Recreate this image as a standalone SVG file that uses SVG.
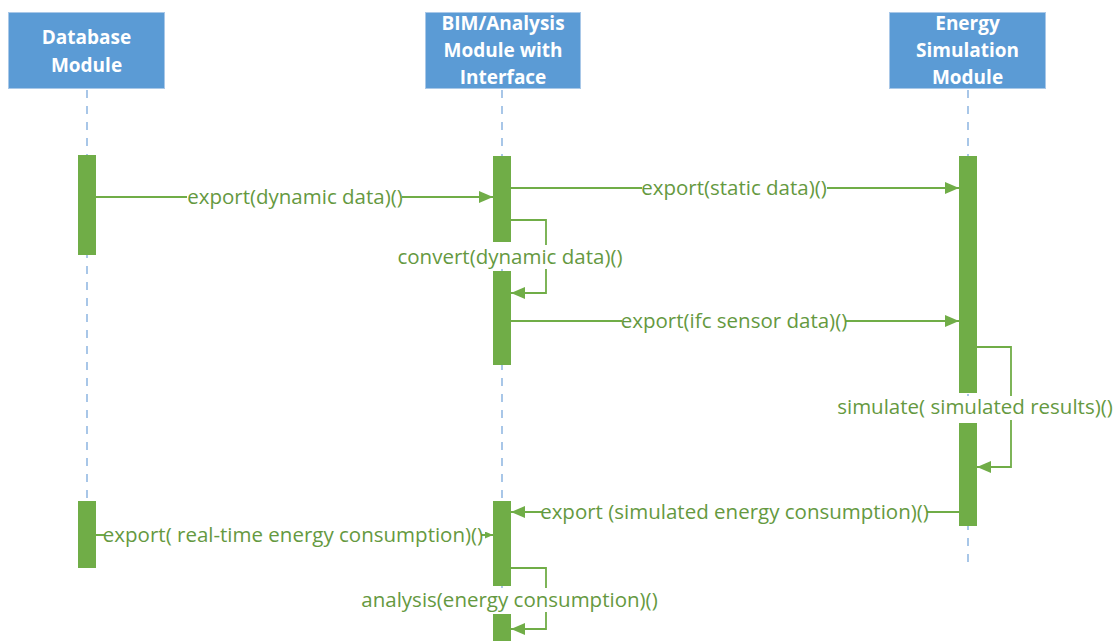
<svg xmlns="http://www.w3.org/2000/svg" width="1117" height="641" viewBox="0 0 1117 641">
  <style>
    .head { fill: #5b9bd5; stroke: #a9c8e8; stroke-width: 1; }
    .head-text { font-family: "Open Sans", "Liberation Sans", sans-serif; font-weight: bold; font-size: 19px; fill: #ffffff; text-anchor: middle; }
    .lifeline { stroke: #7aa9dc; stroke-width: 1.3; stroke-dasharray: 8 8; fill: none; }
    .bar { fill: #70ad47; }
    .msg { stroke: #70ad47; stroke-width: 1.8; fill: none; }
    .label { font-family: "Open Sans", "Liberation Sans", sans-serif; font-size: 20.5px; fill: #65993f; text-anchor: middle; }
    .bg { fill: #ffffff; }
  </style>
  <defs>
    <marker id="arrow" markerUnits="userSpaceOnUse" markerWidth="15" markerHeight="13" refX="14" refY="6" orient="auto">
      <path d="M0,0 L14,6 L0,12 z" fill="#70ad47"/>
    </marker>
    <marker id="arrow-small" markerUnits="userSpaceOnUse" markerWidth="9" markerHeight="8" refX="8" refY="3.5" orient="auto">
      <path d="M0,0 L8,3.5 L0,7 z" fill="#70ad47"/>
    </marker>
  </defs>

  <rect width="1117" height="641" fill="#ffffff"/>

  <!-- lifelines -->
  <g id="lifelines">
    <line class="lifeline" x1="87" y1="90" x2="87" y2="501"/>
    <line class="lifeline" x1="502" y1="90" x2="502" y2="641"/>
    <line class="lifeline" x1="968" y1="90" x2="968" y2="570"/>
  </g>

  <!-- participants -->
  <g id="database-module">
    <rect class="head" x="8.5" y="12.5" width="156" height="76"/>
    <text class="head-text" x="86.5" y="44">Database</text>
    <text class="head-text" x="86.5" y="71.5">Module</text>
    <rect class="bar" x="78" y="155" width="18" height="100"/>
    <rect class="bar" x="78" y="501" width="18" height="67"/>
  </g>

  <g id="bim-analysis-module">
    <rect class="head" x="425.5" y="12.5" width="155" height="76"/>
    <text class="head-text" x="503" y="30">BIM/Analysis</text>
    <text class="head-text" x="503" y="57">Module with</text>
    <text class="head-text" x="503" y="84">Interface</text>
    <rect class="bar" x="493" y="156" width="18" height="86"/>
    <rect class="bar" x="493" y="271" width="18" height="94"/>
    <rect class="bar" x="493" y="501" width="18" height="85"/>
    <rect class="bar" x="493" y="614" width="18" height="30"/>
  </g>

  <g id="energy-simulation-module">
    <rect class="head" x="889.5" y="12.5" width="156" height="76"/>
    <text class="head-text" x="967.5" y="29.5">Energy</text>
    <text class="head-text" x="967.5" y="57">Simulation</text>
    <text class="head-text" x="967.5" y="83.5">Module</text>
    <rect class="bar" x="959" y="156" width="18" height="237"/>
    <rect class="bar" x="959" y="423" width="18" height="103"/>
  </g>

  <!-- messages -->
  <g id="connectors">
    <line class="msg" x1="96" y1="197" x2="493" y2="197" marker-end="url(#arrow)"/>
    <line class="msg" x1="511" y1="188" x2="959" y2="188" marker-end="url(#arrow)"/>
    <path class="msg" d="M511,220 H546 V293 H511" marker-end="url(#arrow)"/>
    <line class="msg" x1="511" y1="321" x2="959" y2="321" marker-end="url(#arrow)"/>
    <path class="msg" d="M977,347 H1011 V467 H977" marker-end="url(#arrow)"/>
    <line class="msg" x1="959" y1="512" x2="511" y2="512" marker-end="url(#arrow)"/>
    <line class="msg" x1="96" y1="535" x2="493" y2="535" marker-end="url(#arrow-small)"/>
    <path class="msg" d="M511,568 H546 V629 H511" marker-end="url(#arrow)"/>
  </g>

  <!-- message labels -->
  <g id="labels">
    <rect class="bg" x="187" y="185" width="215" height="24"/>
    <text class="label" x="295" y="204">export(dynamic data)()</text>

    <rect class="bg" x="642" y="176" width="185" height="24"/>
    <text class="label" x="734" y="195">export(static data)()</text>

    <rect class="bg" x="394" y="245" width="232" height="24"/>
    <text class="label" x="510" y="264">convert(dynamic data)()</text>

    <rect class="bg" x="622" y="309" width="224" height="24"/>
    <text class="label" x="734" y="328">export(ifc sensor data)()</text>

    <rect class="bg" x="835" y="396" width="280" height="24"/>
    <text class="label" x="975" y="414">simulate( simulated results)()</text>

    <rect class="bg" x="542" y="500" width="385" height="24"/>
    <text class="label" x="734.5" y="519">export (simulated energy consumption)()</text>

    <rect class="bg" x="105" y="523" width="376" height="24"/>
    <text class="label" x="293" y="542">export( real-time energy consumption)()</text>

    <rect class="bg" x="360" y="588" width="299" height="24"/>
    <text class="label" x="509.5" y="607">analysis(energy consumption)()</text>
  </g>
</svg>
